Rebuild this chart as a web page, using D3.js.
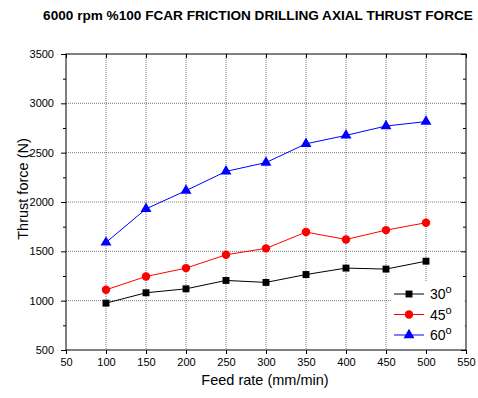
<!DOCTYPE html>
<html><head><meta charset="utf-8">
<script src="https://cdn.jsdelivr.net/npm/d3@7"></script>
<style>body{margin:0;background:#fff}svg{display:block}text{font-family:"Liberation Sans",Arial,sans-serif}</style>
</head><body>
<svg id="c" width="478" height="398"></svg>
<script>
const feedRates = [100,150,200,250,300,350,400,450,500];
const thrust30 = [975,1080,1120,1205,1185,1265,1330,1320,1400];
const thrust45 = [1110,1245,1330,1465,1530,1695,1620,1715,1790];
const thrust60 = [1590,1930,2115,2310,2400,2590,2675,2770,2815];
const seriesNames = ["30","45","60"];
const xTicks = [50,100,150,200,250,300,350,400,450,500,550];
const yTicks = [500,1000,1500,2000,2500,3000,3500];
const yMinor = [750,1250,1750,2250,2750,3250];

const series = [
  {name: seriesNames[0], values: thrust30, color: "#000000", symbol: d3.symbolSquare, size: 48},
  {name: seriesNames[1], values: thrust45, color: "#ff0000", symbol: d3.symbolCircle, size: 56},
  {name: seriesNames[2], values: thrust60, color: "#0000ff", symbol: d3.symbolTriangle, size: 52}
];

const svg = d3.select("#c");
const L=66, R=466, T=54, B=350;
const x = d3.scaleLinear().domain([50,550]).range([L,R]);
const y = d3.scaleLinear().domain([500,3500]).range([B,T]);

svg.append("text").attr("x",258).attr("y",20).attr("text-anchor","middle")
  .attr("font-size",13.6).attr("font-weight","bold").text("6000 rpm %100 FCAR FRICTION DRILLING AXIAL THRUST FORCE");

// grid
const g = svg.append("g");
g.selectAll(".gx").data(xTicks.slice(1,-1)).join("line")
  .attr("x1",d=>x(d)).attr("x2",d=>x(d)).attr("y1",T).attr("y2",B)
  .attr("stroke","#555").attr("stroke-width",0.8).attr("stroke-dasharray","1,1");
g.selectAll(".gy").data(yTicks.slice(1,-1)).join("line")
  .attr("y1",d=>y(d)).attr("y2",d=>y(d)).attr("x1",L).attr("x2",R)
  .attr("stroke","#555").attr("stroke-width",0.8).attr("stroke-dasharray","1,1");

// axes
const ax = svg.append("g").attr("transform",`translate(0,${B})`)
  .call(d3.axisBottom(x).tickValues(xTicks).tickSize(4).tickPadding(4).tickFormat(d3.format("d")));
const axT = svg.append("g").attr("transform",`translate(0,${T})`)
  .call(d3.axisTop(x).tickValues(xTicks).tickSize(-4).tickFormat(""));
const ay = svg.append("g").attr("transform",`translate(${L},0)`)
  .call(d3.axisLeft(y).tickValues(yTicks).tickSize(5).tickPadding(7).tickFormat(d3.format("d")));
const ayR = svg.append("g").attr("transform",`translate(${R},0)`)
  .call(d3.axisRight(y).tickValues(yTicks).tickSize(-5).tickFormat(""));
const ayM = svg.append("g").attr("transform",`translate(${L},0)`)
  .call(d3.axisLeft(y).tickValues(yMinor).tickSize(3).tickFormat(""));
const ayMR = svg.append("g").attr("transform",`translate(${R},0)`)
  .call(d3.axisRight(y).tickValues(yMinor).tickSize(-3).tickFormat(""));
[ax,axT,ay,ayR,ayM,ayMR].forEach(a=>{
  a.select(".domain").remove();
  a.selectAll("line").attr("stroke","#000");
  a.selectAll("text").attr("font-size",11).attr("fill","#000").attr("font-family","Liberation Sans, Arial, sans-serif");
});
svg.append("rect").attr("x",L).attr("y",T).attr("width",R-L).attr("height",B-T)
  .attr("fill","none").attr("stroke","#000").attr("stroke-width",1);

// labels
svg.append("text").attr("x",265).attr("y",385).attr("text-anchor","middle")
  .attr("font-size",14.5).text("Feed rate (mm/min)");
svg.append("text").attr("transform",`translate(28,189) rotate(-90)`).attr("text-anchor","middle")
  .attr("font-size",14.5).text("Thrust force (N)");

// series
const line = d3.line().x((d,i)=>x(feedRates[i])).y(d=>y(d));
series.forEach(s=>{
  svg.append("path").attr("d",line(s.values)).attr("fill","none").attr("stroke",s.color).attr("stroke-width",1);
  svg.selectAll(null).data(s.values).join("path")
    .attr("transform",(d,i)=>`translate(${x(feedRates[i])},${y(d)})`)
    .attr("d",d3.symbol().type(s.symbol).size(s.size)).attr("fill",s.color);
});

// legend
const lg = svg.append("g");
lg.append("rect").attr("x",392).attr("y",281).attr("width",73).attr("height",68).attr("fill","#fff");
series.forEach((s,i)=>{
  const yy = 294 + i*20.5;
  lg.append("line").attr("x1",394).attr("x2",424).attr("y1",yy).attr("y2",yy).attr("stroke",s.color).attr("stroke-width",1);
  lg.append("path").attr("transform",`translate(409,${yy})`).attr("d",d3.symbol().type(s.symbol).size(s.size)).attr("fill",s.color);
  const t = lg.append("text").attr("x",430).attr("y",yy+5).attr("font-size",14).text(s.name);
  t.append("tspan").attr("dy",-6).attr("font-size",11).text("o");
});
</script>
</body></html>
